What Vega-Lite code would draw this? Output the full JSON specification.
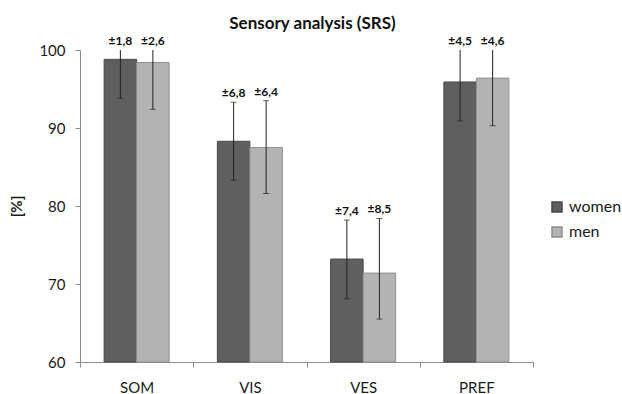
{
  "$schema": "https://vega.github.io/schema/vega-lite/v6.json",
  "autosize": {"type": "none"},
  "width": 453,
  "height": 312,
  "padding": {"left": 80, "top": 50, "right": 89, "bottom": 32},
  "background": "white",
  "config": {
    "font": "Lato",
    "view": {"stroke": null},
    "axis": {"grid": false, "domainColor": "#8c8c8c", "tickColor": "#8c8c8c", "labelColor": "#1a1a1a", "titleColor": "#1a1a1a"}
  },
  "title": {
    "text": "Sensory analysis (SRS)",
    "fontSize": 17,
    "fontWeight": "bold",
    "color": "#111111",
    "anchor": "middle",
    "offset": 2,
    "dx": 6
  },
  "data": {
    "values": [
      {"cat": "SOM", "sex": "women", "value": 98.8, "lo": 93.8, "hi": 103.8, "sd": "±1,8"},
      {"cat": "SOM", "sex": "men", "value": 98.4, "lo": 92.4, "hi": 104.4, "sd": "±2,6"},
      {"cat": "VIS", "sex": "women", "value": 88.3, "lo": 83.3, "hi": 93.3, "sd": "±6,8"},
      {"cat": "VIS", "sex": "men", "value": 87.5, "lo": 81.6, "hi": 93.5, "sd": "±6,4"},
      {"cat": "VES", "sex": "women", "value": 73.2, "lo": 68.1, "hi": 78.2, "sd": "±7,4"},
      {"cat": "VES", "sex": "men", "value": 71.4, "lo": 65.5, "hi": 78.4, "sd": "±8,5"},
      {"cat": "PREF", "sex": "women", "value": 95.9, "lo": 90.9, "hi": 100.9, "sd": "±4,5"},
      {"cat": "PREF", "sex": "men", "value": 96.4, "lo": 90.3, "hi": 102.4, "sd": "±4,6"}
    ]
  },
  "encoding": {
    "x": {
      "field": "cat",
      "type": "nominal",
      "sort": ["SOM", "VIS", "VES", "PREF"],
      "scale": {"paddingInner": 0, "paddingOuter": 0},
      "axis": {"title": null, "labelAngle": 0, "labelFontSize": 15, "labelPadding": 13, "tickSize": 5, "tickBand": "extent", "domainWidth": 1}
    },
    "xOffset": {
      "field": "sex",
      "type": "nominal",
      "sort": ["women", "men"],
      "scale": {"domain": ["women", "men"], "paddingInner": 0, "paddingOuter": 0.742}
    }
  },
  "layer": [
    {
      "mark": {"type": "bar", "strokeWidth": 1},
      "encoding": {
        "y": {
          "field": "value",
          "type": "quantitative",
          "scale": {"domain": [60, 100], "clamp": true, "nice": false, "zero": false},
          "axis": {"title": "[%]", "titleFontSize": 15, "titleFontWeight": "bold", "titlePadding": 14, "labelFontSize": 15, "labelPadding": 10, "tickSize": 5, "tickCount": 5, "values": [60, 70, 80, 90, 100]}
        },
        "fill": {
          "field": "sex",
          "type": "nominal",
          "scale": {"domain": ["women", "men"], "range": ["#5f5f5f", "#b3b3b3"]},
          "legend": {
            "title": null,
            "orient": "none",
            "legendX": 469,
            "legendY": 149,
            "symbolType": "square",
            "symbolSize": 100,
            "labelFontSize": 16,
            "labelOffset": 4,
            "rowPadding": 9,
            "labelColor": "#1a1a1a"
          }
        },
        "stroke": {
          "field": "sex",
          "type": "nominal",
          "scale": {"domain": ["women", "men"], "range": ["#4a4a4a", "#8f8f8f"]},
          "legend": null
        }
      }
    },
    {
      "mark": {"type": "rule", "color": "#222222", "strokeWidth": 1},
      "encoding": {
        "y": {"field": "lo", "type": "quantitative"},
        "y2": {"field": "hi"}
      }
    },
    {
      "mark": {"type": "tick", "color": "#222222", "thickness": 1, "size": 6, "orient": "horizontal"},
      "encoding": {
        "y": {"field": "lo", "type": "quantitative"}
      }
    },
    {
      "transform": [{"filter": "datum.hi <= 100"}],
      "mark": {"type": "tick", "color": "#222222", "thickness": 1, "size": 6, "orient": "horizontal"},
      "encoding": {
        "y": {"field": "hi", "type": "quantitative"}
      }
    },
    {
      "mark": {"type": "text", "fontSize": 12, "fontWeight": "bold", "color": "#111111", "dy": -9, "baseline": "middle"},
      "encoding": {
        "y": {"field": "hi", "type": "quantitative"},
        "text": {"field": "sd"}
      }
    }
  ]
}
